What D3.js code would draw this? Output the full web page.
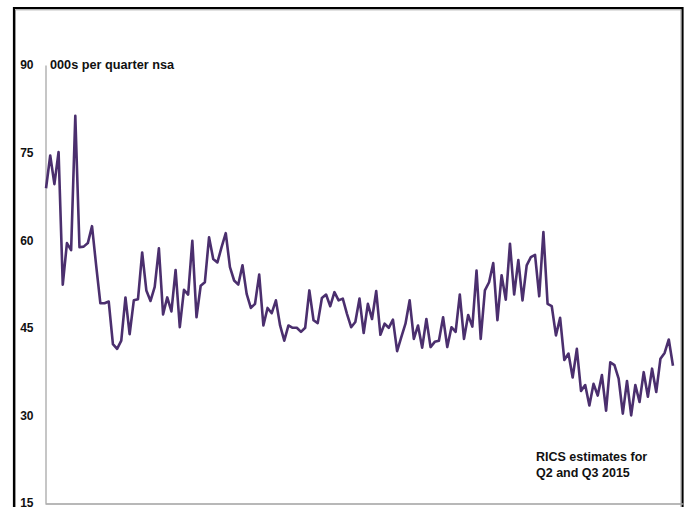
<!DOCTYPE html>
<html>
<head>
<meta charset="utf-8">
<title>Quarterly series</title>
<script src="https://cdn.jsdelivr.net/npm/d3@7"></script>
<style>
  body { margin:0; background:#fff; }
  svg text { font-family: "Liberation Sans", Arial, sans-serif; font-weight:bold; fill:#111; }
</style>
</head>
<body>
<div id="chart"></div>
<script>
// quarterly values, 000s per quarter (last two are RICS estimates)
var values = [
  68.9,74.5,69.6,75.1,52.4,59.5,58.3,81.3,58.8,58.9,
  59.5,62.4,55.6,49.2,49.2,49.5,42.2,41.4,42.8,50.2,
  43.9,49.7,49.9,57.9,51.4,49.6,52.0,58.6,47.3,50.2,
  47.8,54.9,45.1,51.5,50.7,59.9,46.8,52.2,52.8,60.5,
  56.8,56.2,58.8,61.2,55.4,53.1,52.4,55.7,50.8,48.4,
  49.1,54.1,45.4,48.4,47.5,49.7,45.4,42.8,45.4,45.0,
  45.0,44.3,45.0,51.4,46.3,45.8,50.1,50.7,48.7,51.1,
  49.7,50.0,47.4,45.1,46.0,50.0,44.1,49.1,46.5,51.3,
  43.8,45.7,45.0,46.4,41.0,43.4,45.7,49.7,43.1,45.4,
  41.6,46.5,41.7,42.6,42.8,46.8,41.7,45.1,44.3,50.7,
  43.1,47.2,45.2,54.8,43.1,51.4,52.8,56.1,46.3,54.0,
  49.8,59.4,50.7,56.6,49.7,55.7,57.1,57.5,50.4,61.4,
  49.1,48.7,43.7,46.7,39.5,40.6,36.5,41.4,34.2,35.2,
  31.7,35.4,33.4,36.9,30.8,39.1,38.6,36.3,30.3,35.9,
  30.0,35.2,32.3,37.4,33.2,38.0,34.0,39.7,40.7,43.0,
  38.5
];
var yTicks = [15, 30, 45, 60, 75, 90];
var unitLabel = "000s per quarter nsa";
var noteLines = ["RICS estimates for", "Q2 and Q3 2015"];

var W = 690, H = 507;
var svg = d3.select("#chart").append("svg")
    .attr("width", W).attr("height", H);

// outer frame (runs off the bottom of the picture)
svg.append("path")
    .attr("d", "M14,520 V8 H682.5 V520")
    .attr("fill", "none").attr("stroke", "#000").attr("stroke-width", 2.2);
svg.append("path")
    .attr("d", "M15.5,520 V9.8 H681 V520")
    .attr("fill", "none").attr("stroke", "#999").attr("stroke-width", 1);

var x = d3.scaleLinear().domain([-0.25, 152.4]).range([45, 683]);
var y = d3.scaleLinear().domain([15, 90]).range([503, 65]);

var yAxis = svg.append("g")
    .attr("transform", "translate(45.5,0)")
    .call(d3.axisLeft(y).tickValues(yTicks).tickSize(0).tickPadding(12));
yAxis.select(".domain").attr("stroke", "#a0a0a0").attr("stroke-width", 1.2);
yAxis.selectAll("text").attr("font-size", 12).attr("fill", "#111")
    .attr("font-family", "Liberation Sans, Arial, sans-serif").attr("font-weight", "bold");

var xAxis = svg.append("g")
    .attr("transform", "translate(0,503.5)")
    .call(d3.axisBottom(x).tickValues([]).tickSizeOuter(0));
xAxis.select(".domain").attr("stroke", "#a0a0a0").attr("stroke-width", 1.4);

var line = d3.line()
    .x(function(d, i) { return x(i); })
    .y(function(d) { return y(d); });

svg.append("path")
    .datum(values)
    .attr("fill", "none")
    .attr("stroke", "#4b2f6e")
    .attr("stroke-width", 2.6)
    .attr("stroke-linejoin", "round")
    .attr("d", line);

svg.append("text")
    .attr("x", 50).attr("y", 69)
    .attr("font-size", 12)
    .attr("textLength", 124).attr("lengthAdjust", "spacingAndGlyphs")
    .text(unitLabel);

svg.selectAll(".note").data(noteLines).enter().append("text")
    .attr("class", "note")
    .attr("x", 536)
    .attr("y", function(d, i) { return 461 + i * 16; })
    .attr("font-size", 12.5)
    .text(function(d) { return d; });
</script>
</body>
</html>
